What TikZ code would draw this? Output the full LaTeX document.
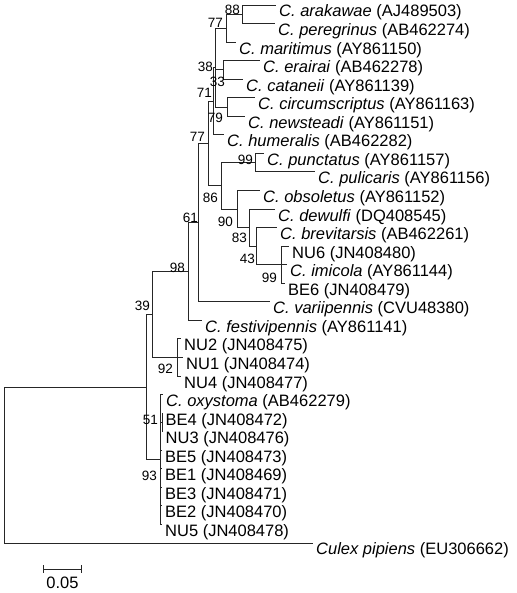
\documentclass[tikz,border=0pt]{standalone}
\usepackage{fontspec}
\setmainfont{Liberation Sans}
\usepackage{tikz}

\begin{document}
\begin{tikzpicture}[x=1pt,y=-1pt,
    branch/.style={draw=black!85,line width=0.9pt},
    leaf/.style={anchor=base west,inner sep=0pt,xshift=3pt,yshift=-12pt,font=\fontsize{16.5}{18}\selectfont},
    boot/.style={anchor=base east,inner sep=0pt,font=\fontsize{13.5}{15}\selectfont},
    scalelab/.style={anchor=base,inner sep=0pt,font=\fontsize{16.5}{18}\selectfont}]
      \useasboundingbox (0,0) rectangle (516,593);
      % leaf tips
      \coordinate (t1) at (276,5);
      \coordinate (t2) at (275,23.55);
      \coordinate (t3) at (236,42.1);
      \coordinate (t4) at (260,60.65);
      \coordinate (t5) at (243,79.2);
      \coordinate (t6) at (255,97.75);
      \coordinate (t7) at (245,116.3);
      \coordinate (t8) at (224,134.85);
      \coordinate (t9) at (264,153.4);
      \coordinate (t10) at (315,171.95);
      \coordinate (t11) at (260,190.5);
      \coordinate (t12) at (275,209.05);
      \coordinate (t13) at (277,227.6);
      \coordinate (t14) at (289,246.15);
      \coordinate (t15) at (287,264.7);
      \coordinate (t16) at (285,283.25);
      \coordinate (t17) at (270,301.8);
      \coordinate (t18) at (202,320.35);
      \coordinate (t19) at (181,338.9);
      \coordinate (t20) at (183,357.45);
      \coordinate (t21) at (181,376);
      \coordinate (t22) at (163,394.55);
      \coordinate (t23) at (162.5,413.1);
      \coordinate (t24) at (162.5,431.65);
      \coordinate (t25) at (162,450.2);
      \coordinate (t26) at (162,468.75);
      \coordinate (t27) at (162,487.3);
      \coordinate (t28) at (162,505.85);
      \coordinate (t29) at (162,524.4);
      \coordinate (t30) at (313,542.95);
      % inner nodes
      \coordinate (root) at (4,464.97);
      \coordinate (nA) at (146,386.98);
      \coordinate (n39) at (152,314.48);
      \coordinate (n98) at (188,271.51);
      \coordinate (n61) at (198,222.67);
      \coordinate (n77b) at (208,143.55);
      \coordinate (n71) at (213,101.23);
      \coordinate (n38) at (215,67.61);
      \coordinate (n77a) at (226,28.19);
      \coordinate (n88) at (242,14.28);
      \coordinate (n33) at (223,69.93);
      \coordinate (n79) at (227,107.03);
      \coordinate (n86) at (221,185.86);
      \coordinate (n99a) at (255,162.68);
      \coordinate (n90) at (237,209.05);
      \coordinate (n83) at (249,227.6);
      \coordinate (n43) at (256,246.15);
      \coordinate (n99b) at (281,264.7);
      \coordinate (n92) at (177,357.45);
      \coordinate (n93) at (160,459.48);
      \coordinate (n51) at (162,422.38);
      % branches
      \draw[branch] (root) |- (nA);
      \draw[branch] (root) |- (t30);
      \draw[branch] (nA) |- (n39);
      \draw[branch] (nA) |- (n93);
      \draw[branch] (n39) |- (n98);
      \draw[branch] (n39) |- (n92);
      \draw[branch] (n98) |- (n61);
      \draw[branch] (n98) |- (t18);
      \draw[branch] (n61) |- (n77b);
      \draw[branch] (n61) |- (t17);
      \draw[branch] (n77b) |- (n71);
      \draw[branch] (n77b) |- (n86);
      \draw[branch] (n71) |- (n38);
      \draw[branch] (n71) |- (t8);
      \draw[branch] (n38) |- (n77a);
      \draw[branch] (n38) |- (n33);
      \draw[branch] (n38) |- (n79);
      \draw[branch] (n77a) |- (n88);
      \draw[branch] (n77a) |- (t3);
      \draw[branch] (n88) |- (t1);
      \draw[branch] (n88) |- (t2);
      \draw[branch] (n33) |- (t4);
      \draw[branch] (n33) |- (t5);
      \draw[branch] (n79) |- (t6);
      \draw[branch] (n79) |- (t7);
      \draw[branch] (n86) |- (n99a);
      \draw[branch] (n86) |- (n90);
      \draw[branch] (n99a) |- (t9);
      \draw[branch] (n99a) |- (t10);
      \draw[branch] (n90) |- (t11);
      \draw[branch] (n90) |- (n83);
      \draw[branch] (n83) |- (t12);
      \draw[branch] (n83) |- (n43);
      \draw[branch] (n43) |- (t13);
      \draw[branch] (n43) |- (n99b);
      \draw[branch] (n99b) |- (t14);
      \draw[branch] (n99b) |- (t15);
      \draw[branch] (n99b) |- (t16);
      \draw[branch] (n92) |- (t19);
      \draw[branch] (n92) |- (t20);
      \draw[branch] (n92) |- (t21);
      \draw[branch] (n93) |- (t22);
      \draw[branch] (n93) |- (n51);
      \draw[branch] (n51) |- (t23);
      \draw[branch] (n51) |- (t24);
      \draw[branch] (n93) |- (t25);
      \draw[branch] (n93) |- (t26);
      \draw[branch] (n93) |- (t27);
      \draw[branch] (n93) |- (t28);
      \draw[branch] (n93) |- (t29);
      % taxa
      \node[leaf] (l1) at (t1) {\textit{C. arakawae} (AJ489503)};
      \node[leaf] (l2) at (t2) {\textit{C. peregrinus} (AB462274)};
      \node[leaf] (l3) at (t3) {\textit{C. maritimus} (AY861150)};
      \node[leaf] (l4) at (t4) {\textit{C. erairai} (AB462278)};
      \node[leaf] (l5) at (t5) {\textit{C. cataneii} (AY861139)};
      \node[leaf] (l6) at (t6) {\textit{C. circumscriptus} (AY861163)};
      \node[leaf] (l7) at (t7) {\textit{C. newsteadi} (AY861151)};
      \node[leaf] (l8) at (t8) {\textit{C. humeralis} (AB462282)};
      \node[leaf] (l9) at (t9) {\textit{C. punctatus} (AY861157)};
      \node[leaf] (l10) at (t10) {\textit{C. pulicaris} (AY861156)};
      \node[leaf] (l11) at (t11) {\textit{C. obsoletus} (AY861152)};
      \node[leaf] (l12) at (t12) {\textit{C. dewulfi} (DQ408545)};
      \node[leaf] (l13) at (t13) {\textit{C. brevitarsis} (AB462261)};
      \node[leaf] (l14) at (t14) {NU6 (JN408480)};
      \node[leaf] (l15) at (t15) {\textit{C. imicola} (AY861144)};
      \node[leaf] (l16) at (t16) {BE6 (JN408479)};
      \node[leaf] (l17) at (t17) {\textit{C. variipennis} (CVU48380)};
      \node[leaf] (l18) at (t18) {\textit{C. festivipennis} (AY861141)};
      \node[leaf] (l19) at (t19) {NU2 (JN408475)};
      \node[leaf] (l20) at (t20) {NU1 (JN408474)};
      \node[leaf] (l21) at (t21) {NU4 (JN408477)};
      \node[leaf] (l22) at (t22) {\textit{C. oxystoma} (AB462279)};
      \node[leaf] (l23) at (t23) {BE4 (JN408472)};
      \node[leaf] (l24) at (t24) {NU3 (JN408476)};
      \node[leaf] (l25) at (t25) {BE5 (JN408473)};
      \node[leaf] (l26) at (t26) {BE1 (JN408469)};
      \node[leaf] (l27) at (t27) {BE3 (JN408471)};
      \node[leaf] (l28) at (t28) {BE2 (JN408470)};
      \node[leaf] (l29) at (t29) {NU5 (JN408478)};
      \node[leaf] (l30) at (t30) {\textit{Culex pipiens} (EU306662)};
      % bootstrap values
      \node[boot] (b88) at (240,15) {88};
      \node[boot] (b77a) at (223,28) {77};
      \node[boot] (b38) at (213,72) {38};
      \node[boot] (b33) at (225,87) {33};
      \node[boot] (b71) at (212,98) {71};
      \node[boot] (b79) at (223,123) {79};
      \node[boot] (b77b) at (205,142) {77};
      \node[boot] (b99a) at (253,165) {99};
      \node[boot] (b86) at (218,203) {86};
      \node[boot] (b90) at (233,227) {90};
      \node[boot] (b83) at (247,243) {83};
      \node[boot] (b43) at (255,263) {43};
      \node[boot] (b99b) at (277,282) {99};
      \node[boot] (b61) at (198,223) {61};
      \node[boot] (b98) at (185,272) {98};
      \node[boot] (b39) at (150,310) {39};
      \node[boot] (b92) at (173,373) {92};
      \node[boot] (b51) at (158,424) {51};
      \node[boot] (b93) at (157,480) {93};
      % scale bar
      \coordinate (sb1) at (43,569);
      \coordinate (sb2) at (82,569);
      \draw[branch,|-|] (sb1) -- (sb2);
      \node[scalelab] (sbl) at (62.5,588) {0.05};
    \end{tikzpicture}
\end{document}
